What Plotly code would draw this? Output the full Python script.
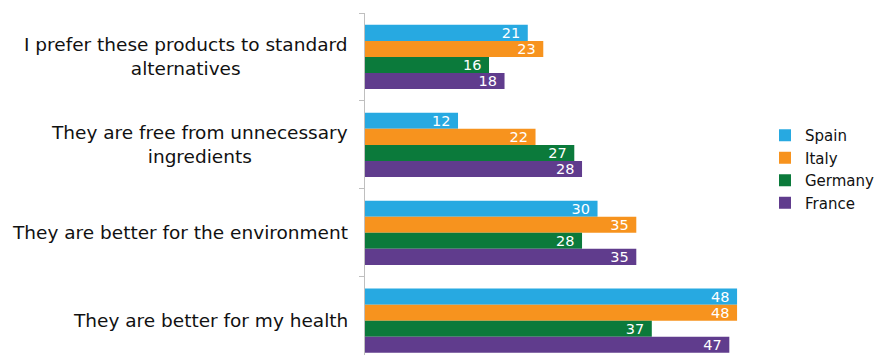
"""Grouped horizontal bar chart: reasons for buying, by country."""

import plotly.graph_objects as go

CATEGORIES = [
    "I prefer these products to standard<br>alternatives",
    "They are free from unnecessary<br>ingredients",
    "They are better for the environment",
    "They are better for my health",
]
COUNTRIES = ["Spain", "Italy", "Germany", "France"]
SPAIN = [21, 12, 30, 48]
ITALY = [23, 22, 35, 48]
GERMANY = [16, 27, 28, 37]
FRANCE = [18, 28, 35, 47]
COLORS = ["#27A9E1", "#F7931E", "#0B7A3B", "#603C8D"]

FONT = "DejaVu Sans"

fig = go.Figure()

for name, values, color in zip(COUNTRIES, [SPAIN, ITALY, GERMANY, FRANCE], COLORS):
    fig.add_trace(
        go.Bar(
            y=CATEGORIES,
            x=values,
            name=name,
            orientation="h",
            marker=dict(color=color, line=dict(width=0)),
            text=[f"{v}\u00a0" for v in values],
            textposition="inside",
            insidetextanchor="end",
            constraintext="none",
            textfont=dict(family=FONT, size=14.5, color="#FFFFFF"),
            hoverinfo="skip",
        )
    )

# category labels: centered lines, block right-aligned against the axis
for cat in CATEGORIES:
    fig.add_annotation(
        x=0, xref="paper", xshift=-15, xanchor="right",
        y=cat, yref="y", yanchor="middle",
        text=cat, align="center", showarrow=False,
        font=dict(family=FONT, size=18.5, color="#111111"),
    )

# the page body adds an 8px margin, so the figure is 8px smaller than the window
fig.update_layout(
    width=875, height=347,
    margin=dict(l=357, r=125, t=5, b=0),
    barmode="group",
    bargap=0.27,
    bargroupgap=0,
    plot_bgcolor="#FFFFFF",
    paper_bgcolor="#FFFFFF",
    font=dict(family=FONT),
    xaxis=dict(
        range=[0, 50.7],
        showgrid=False, zeroline=False, showline=False,
        showticklabels=False, ticks="",
    ),
    yaxis=dict(
        type="category",
        range=[3.39, -0.5],
        showgrid=False, zeroline=False,
        showline=True, linecolor="#BFBFBF", linewidth=1,
        ticks="outside", tickson="boundaries", ticklen=5,
        tickcolor="#BFBFBF", showticklabels=False,
    ),
    legend=dict(
        xref="container", yref="container",
        x=757 / 875, y=0.536, xanchor="left", yanchor="middle",
        traceorder="normal",
        font=dict(family=FONT, size=15, color="#111111"),
        itemclick=False, itemdoubleclick=False,
        bgcolor="rgba(0,0,0,0)",
    ),
)

fig.write_html("out.html")
